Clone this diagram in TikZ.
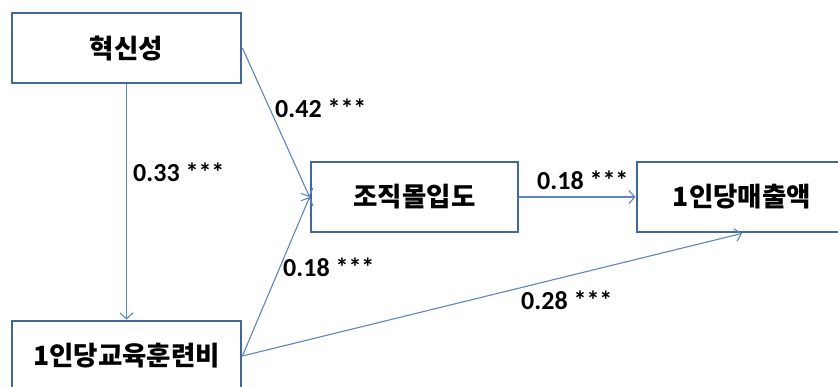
\documentclass[tikz,border=0pt]{standalone}
\usepackage{fontspec}
\newfontfamily\kr{Noto Sans CJK KR}
\newfontfamily\num{Carlito}
\usetikzlibrary{arrows.meta}
\definecolor{boxline}{HTML}{41689A}
\definecolor{arrowline}{HTML}{5B86C0}
\tikzset{
  boxnode/.style={draw=boxline, line width=2.8pt, fill=white, inner sep=0pt,
    font=\kr\bfseries\fontsize{26.5}{30}\selectfont},
  conn/.style={draw=arrowline, line width=1.1pt,
    -{Straight Barb[length=6pt,width=13pt,line width=1.1pt]}},
  coef/.style={font=\num\bfseries\fontsize{26}{30}\selectfont, inner sep=0pt, anchor=west}
}
\begin{document}
\begin{tikzpicture}[x=1pt,y=-1pt]
\useasboundingbox (0,0) rectangle (838,386);
\node[boxnode, minimum width=229pt, minimum height=70pt] (innov) at (126.5,48) {혁신성};
\node[boxnode, minimum width=207pt, minimum height=70pt] (org) at (414.5,197) {조직몰입도};
\node[boxnode, minimum width=210pt, minimum height=70pt] (sales) at (742,197) {1인당매출액};
\node[boxnode, minimum width=229pt, minimum height=70pt] (edu) at (126.5,356) {1인당교육훈련비};
\draw[conn] (innov.south) -- (edu.north);
\draw[conn] (innov.east) -- (org.west);
\draw[conn] (edu.east) -- (org.west);
\draw[conn] (org.east) -- (sales.west);
\draw[conn] (edu.east) -- (sales.south);
\node[coef] (l1) at (275,108) {0.42 ***};
\node[coef] (l2) at (133,172) {0.33 ***};
\node[coef] (l3) at (283,267) {0.18 ***};
\node[coef] (l4) at (537,180) {0.18 ***};
\node[coef] (l5) at (521,300) {0.28 ***};
\end{tikzpicture}
\end{document}
